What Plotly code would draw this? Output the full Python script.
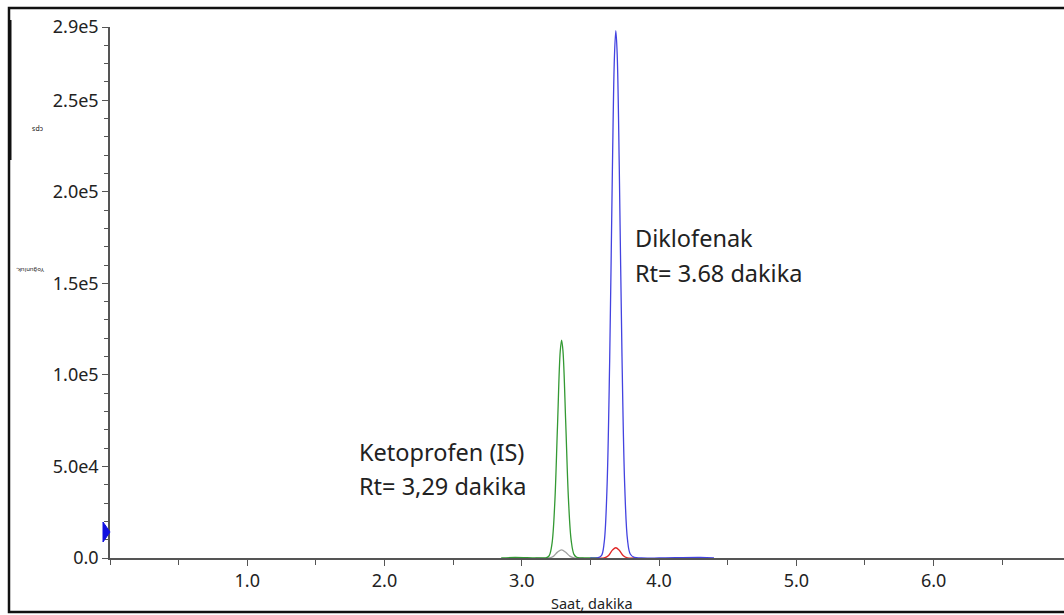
import plotly.graph_objects as go

# ---- data ----
keto_t = [2.85, 2.95, 3.10, 3.15, 3.18, 3.20, 3.22, 3.24, 3.26, 3.28, 3.29, 3.30, 3.32, 3.34, 3.36, 3.38, 3.40, 3.43, 3.48, 3.55]
keto_i = [0, 300, 0, 50, 150, 1300, 7800, 29600, 72000, 112900, 119000, 113000, 74000, 32000, 9500, 2000, 400, 50, 0, 0]

keto_q_t = [3.10, 3.20, 3.23, 3.26, 3.29, 3.32, 3.35, 3.38, 3.45]
keto_q_i = [0, 0, 900, 3200, 4400, 3100, 1000, 100, 0]

diclo_t = [3.50, 3.55, 3.58, 3.60, 3.62, 3.64, 3.66, 3.675, 3.685, 3.695, 3.71, 3.73, 3.75, 3.77, 3.79, 3.82, 3.87, 4.00, 4.30, 4.40]
diclo_i = [0, 40, 1300, 8400, 36600, 107000, 212000, 274000, 288000, 275000, 214000, 110000, 39000, 10000, 2200, 300, 0, 0, 300, 0]

diclo_q_t = [3.55, 3.60, 3.63, 3.66, 3.685, 3.71, 3.74, 3.77, 3.82]
diclo_q_i = [0, 0, 1200, 4300, 5600, 4200, 1200, 100, 0]

y_ticks = [0, 50000, 100000, 150000, 200000, 250000, 290000]
y_labels = ["0.0", "5.0e4", "1.0e5", "1.5e5", "2.0e5", "2.5e5", "2.9e5"]
x_ticks = [1, 2, 3, 4, 5, 6]
x_labels = ["1.0", "2.0", "3.0", "4.0", "5.0", "6.0"]

FONT = "Noto Sans"

# plot area in pixels: x 110..1064, y 27..558
PL, PR, PT, PB = 110, 1064, 27, 558
def px(x):
    return (x - PL) / (PR - PL)
def py(y):
    return (PB - y) / (PB - PT)

fig = go.Figure()
fig.add_trace(go.Scatter(x=keto_q_t, y=keto_q_i, mode="lines", line=dict(color="#a0a0a0", width=1.3, shape="spline"), hoverinfo="skip"))
fig.add_trace(go.Scatter(x=diclo_q_t, y=diclo_q_i, mode="lines", line=dict(color="#e02525", width=1.3, shape="spline"), hoverinfo="skip"))
fig.add_trace(go.Scatter(x=keto_t, y=keto_i, mode="lines", line=dict(color="#339933", width=1.3, shape="spline"), hoverinfo="skip"))
fig.add_trace(go.Scatter(x=diclo_t, y=diclo_i, mode="lines", line=dict(color="#4343e0", width=1.3, shape="spline"), hoverinfo="skip"))

fig.update_layout(
    width=1064, height=615,
    margin=dict(l=PL, r=0, t=PT, b=615 - PB),
    paper_bgcolor="white", plot_bgcolor="white",
    showlegend=False,
    font=dict(family=FONT, color="#222"),
    xaxis=dict(range=[0, 6.95], showgrid=False, zeroline=False,
               showline=True, linecolor="#555", linewidth=1.5,
               ticks="outside", ticklen=6, tickcolor="#555",
               tickmode="array", tickvals=x_ticks, ticktext=x_labels,
               tickfont=dict(size=18, family=FONT, color="#222"),
               minor=dict(tickmode="linear", tick0=0, dtick=0.5, ticks="outside", ticklen=5, tickcolor="#555")),
    yaxis=dict(range=[0, 290000], showgrid=False, zeroline=False,
               showline=True, linecolor="#555", linewidth=1.5,
               ticks="outside", ticklen=6, tickcolor="#555",
               tickmode="array", tickvals=y_ticks, ticktext=y_labels,
               tickfont=dict(size=18, family=FONT, color="#222"),
               minor=dict(tickmode="linear", tick0=0, dtick=10000, ticks="outside", ticklen=4, tickcolor="#555")),
)

def ann(text, x, y, size, xanchor="left", yanchor="middle", angle=0):
    fig.add_annotation(text=text, x=px(x), y=py(y), xref="paper", yref="paper", xanchor=xanchor, yanchor=yanchor,
                       showarrow=False, textangle=angle, font=dict(family=FONT, size=size, color="#222"))

ann("Ketoprofen (IS)", 357, 452, 23.5)
ann("Rt= 3,29 dakika", 357, 486, 23.5)
ann("Diklofenak", 633, 238, 23.5)
ann("Rt= 3.68 dakika", 633, 273, 23.5)
ann("Saat, dakika", 592, 603, 14.5, xanchor="center")
ann("cps", 37, 130, 7, xanchor="center", angle=180)
ann("Yoğunluk, ", 30, 270, 6, xanchor="center", angle=180)

# threshold marker (blue triangle) at the y axis
fig.add_shape(type="path", xref="paper", yref="paper",
              path=f"M {px(103)} {py(522)} L {px(110)} {py(532)} L {px(103)} {py(542)} Z",
              fillcolor="#1010e0", line=dict(color="#1010e0", width=1), layer="above")

# outer frame
fig.add_shape(type="rect", xref="paper", yref="paper", x0=px(9), x1=px(1075), y0=py(612), y1=py(8),
              line=dict(color="#111", width=2.5), fillcolor="rgba(0,0,0,0)", layer="above")
fig.add_shape(type="line", xref="paper", yref="paper", x0=px(10.5), x1=px(10.5),
              y0=py(20), y1=py(160), line=dict(color="#111", width=2))

fig.write_html("out.html")
